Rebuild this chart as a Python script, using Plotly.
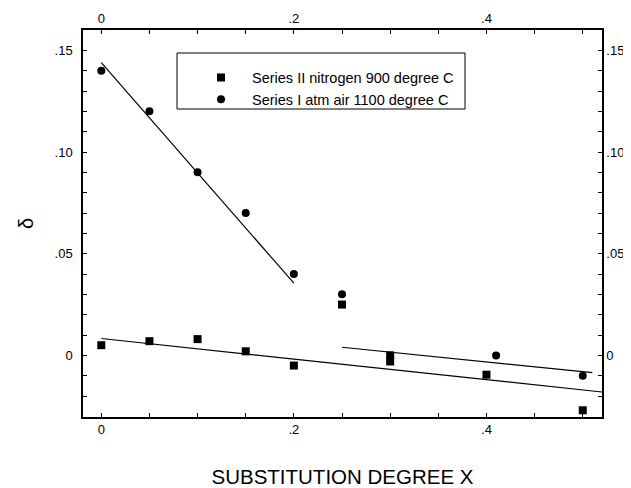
import plotly.graph_objects as go

# ---- data ----
x_series2 = [0, 0.05, 0.10, 0.15, 0.20, 0.25, 0.30, 0.30, 0.40, 0.50]
d_series2 = [0.005, 0.007, 0.008, 0.002, -0.005, 0.025, 0.000, -0.003, -0.0095, -0.027]

x_series1 = [0, 0.05, 0.10, 0.15, 0.20, 0.25, 0.41, 0.50]
d_series1 = [0.140, 0.120, 0.090, 0.070, 0.040, 0.030, 0.000, -0.010]

fit_a_x = [0, 0.20]
fit_a_y = [0.144, 0.0355]
fit_b_x = [0, 0.52]
fit_b_y = [0.0083, -0.018]
fit_c_x = [0.25, 0.51]
fit_c_y = [0.004, -0.0085]

x_tickvals = [round(i * 0.05, 2) for i in range(0, 11)]
x_ticktext = {0: "0", 0.2: ".2", 0.4: ".4"}
y_tickvals = [round(-0.03 + i * 0.01, 2) for i in range(0, 19)]
y_ticktext = {0: "0", 0.05: ".05", 0.1: ".10", 0.15: ".15"}

name_series2 = "Series II nitrogen 900 degree C"
name_series1 = "Series I atm air 1100 degree C"

FONT = "Liberation Sans, Arial, Helvetica, sans-serif"

fig = go.Figure()
fig.add_trace(go.Scatter(x=x_series2, y=d_series2, mode="markers", name=name_series2,
                         marker=dict(symbol="square", size=8, color="black")))
fig.add_trace(go.Scatter(x=x_series1, y=d_series1, mode="markers", name=name_series1,
                         marker=dict(symbol="circle", size=8, color="black")))
for fx, fy in [(fit_a_x, fit_a_y), (fit_b_x, fit_b_y), (fit_c_x, fit_c_y)]:
    fig.add_trace(go.Scatter(x=fx, y=fy, mode="lines", showlegend=False,
                             line=dict(color="black", width=1.2), hoverinfo="skip"))
# invisible trace so the mirrored top/right axes are drawn
fig.add_trace(go.Scatter(x=[None], y=[None], xaxis="x2", yaxis="y2", mode="markers",
                         showlegend=False, hoverinfo="skip"))

xr = [-0.019, 0.52]
yr = [-0.0303, 0.16]
xtext = [x_ticktext.get(v, "") for v in x_tickvals]
ytext = [y_ticktext.get(v, "") for v in y_tickvals]

common_x = dict(range=xr, tickmode="array", tickvals=x_tickvals, ticktext=xtext,
                ticks="inside", ticklen=4, tickwidth=1, tickcolor="black",
                showline=True, linecolor="black", linewidth=1.5, showgrid=False,
                zeroline=False, tickfont=dict(family=FONT, size=13, color="black"))
common_y = dict(range=yr, tickmode="array", tickvals=y_tickvals, ticktext=ytext,
                ticks="inside", ticklen=4, tickwidth=1, tickcolor="black",
                showline=True, linecolor="black", linewidth=1.5, showgrid=False,
                zeroline=False, tickfont=dict(family=FONT, size=13, color="black"))

# the page adds an 8px body margin, so the figure is sized to fit the window
W, H = 623, 480
L, R, T, B = 75, 29, 22, 71
pw, ph = W - L - R, H - T - B

def px_x(v):  # window pixel -> paper
    return (v - 8 - L) / pw

def px_y(v):
    return (H - B - (v - 8)) / ph

fig.update_layout(
    width=W, height=H,
    margin=dict(l=L, r=R, t=T, b=B, autoexpand=False),
    paper_bgcolor="white", plot_bgcolor="white",
    font=dict(family=FONT, color="black"),
    xaxis=dict(**common_x, title=dict(text="SUBSTITUTION DEGREE X",
                                      font=dict(family=FONT, size=20.5, color="black"),
                                      standoff=33)),
    yaxis=dict(**common_y, ticklabelstandoff=6,
               title=dict(text="δ", font=dict(family=FONT, size=20, color="black"),
                          standoff=16)),
    xaxis2=dict(**common_x, overlaying="x", side="top"),
    yaxis2=dict(**common_y, overlaying="y", side="right", ticklabelstandoff=0),
    showlegend=True,
    legend=dict(x=px_x(190), y=px_y(61.5), xanchor="left", yanchor="top",
                bgcolor="rgba(0,0,0,0)", borderwidth=0, itemwidth=52,
                font=dict(family=FONT, size=14.5, color="black"),
                tracegroupgap=0),
    shapes=[dict(type="rect", xref="paper", yref="paper",
                 x0=px_x(177), x1=px_x(465), y0=px_y(109), y1=px_y(53),
                 line=dict(color="black", width=1), fillcolor="rgba(0,0,0,0)")],
)

fig.write_html("out.html")
